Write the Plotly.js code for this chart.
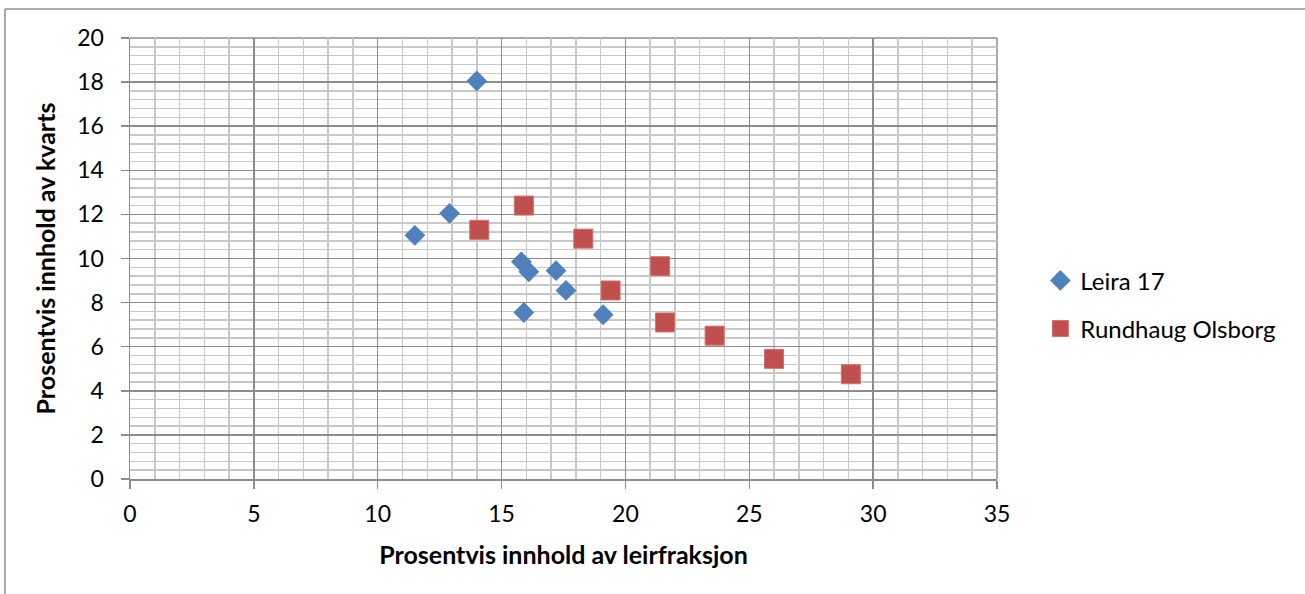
<!DOCTYPE html>
<html>
<head>
<meta charset="utf-8">
<script src="https://cdn.plot.ly/plotly-3.0.1.min.js"></script>
<style>
html,body{margin:0;padding:0;background:#fff;overflow:hidden;}
#chart{width:1305px;height:594px;}
</style>
</head>
<body>
<div id="chart"></div>
<script>
// Leira 17
const leiraX = [14.0, 11.5, 12.9, 15.8, 16.1, 17.2, 17.6, 15.9, 19.1];
const leiraY = [18.05, 11.05, 12.05, 9.85, 9.4, 9.45, 8.55, 7.55, 7.45];
// Rundhaug Olsborg
const rundX = [14.1, 15.9, 18.3, 21.4, 19.4, 21.6, 23.6, 26.0, 29.1];
const rundY = [11.3, 12.4, 10.9, 9.65, 8.55, 7.1, 6.5, 5.45, 4.75];

const seriesNames = ["Leira 17", "Rundhaug Olsborg"];
const xTitle = "Prosentvis innhold av leirfraksjon";
const yTitle = "Prosentvis innhold av kvarts";

const font = "Lato, 'Open Sans', sans-serif";

const traces = [
  {
    type: "scatter", mode: "markers", name: seriesNames[0], legendgroup: "a",
    x: leiraX, y: leiraY,
    marker: {symbol: "diamond", size: 16, color: "#4f81bd", line: {width: 0}}
  },
  {
    type: "scatter", mode: "markers", name: seriesNames[1], legendgroup: "b",
    x: rundX, y: rundY,
    marker: {symbol: "square", size: 19, color: "#c0504d", line: {width: 1, color: "#d0706d"}}
  }
];

const layout = {
  width: 1305, height: 594,
  margin: {l: 130, r: 308, t: 38, b: 115},
  paper_bgcolor: "#fff", plot_bgcolor: "#fff",
  font: {family: font, size: 22, color: "#000"},
  showlegend: true,
  legend: {
    x: 1.050, xanchor: "left", y: 0.395, yanchor: "middle",
    font: {family: font, size: 24, color: "#000"},
    traceorder: "grouped", tracegroupgap: 14,
    bgcolor: "rgba(0,0,0,0)"
  },
  xaxis: {
    range: [0, 35], dtick: 5, tick0: 0,
    showgrid: true, gridcolor: "#8c8c8c", gridwidth: 1.5,
    minor: {dtick: 1, showgrid: true, gridcolor: "#c8c8c8", gridwidth: 1.5},
    showline: true, linecolor: "#8c8c8c", linewidth: 1.5,
    ticks: "outside", ticklen: 8, tickcolor: "#8c8c8c", tickwidth: 1.5,
    zeroline: false, tickfont: {size: 23}, ticklabelstandoff: 6,
    title: {text: "<b>" + xTitle + "</b>", font: {size: 25}, standoff: 20}
  },
  yaxis: {
    range: [0, 20], dtick: 2, tick0: 0,
    showgrid: true, gridcolor: "#8c8c8c", gridwidth: 1.5,
    minor: {dtick: 0.4, showgrid: true, gridcolor: "#c8c8c8", gridwidth: 1.5},
    showline: true, linecolor: "#8c8c8c", linewidth: 1.5,
    ticks: "outside", ticklen: 8, tickcolor: "#8c8c8c", tickwidth: 1.5,
    zeroline: false, tickfont: {size: 23}, ticklabelstandoff: 12,
    title: {text: "<b>" + yTitle + "</b>", font: {size: 25}, standoff: 14}
  },
  shapes: [
    {type: "line", xref: "paper", yref: "paper",
     x0: -0.1442, x1: 1.5, y0: 1.0658, y1: 1.0658,
     line: {color: "#8c8c8c", width: 1.5}, layer: "below"},
    {type: "line", xref: "paper", yref: "paper",
     x0: -0.1442, x1: -0.1442, y0: -0.4, y1: 1.0658,
     line: {color: "#8c8c8c", width: 1.5}, layer: "below"},
    {type: "line", xref: "paper", yref: "paper",
     x0: 1, x1: 1, y0: 0, y1: 1,
     line: {color: "#8c8c8c", width: 1.5}, layer: "below"},
    {type: "line", xref: "paper", yref: "paper",
     x0: 0, x1: 1, y0: 1, y1: 1,
     line: {color: "#8c8c8c", width: 1.5}, layer: "below"}
  ]
};

Plotly.newPlot("chart", traces, layout, {displayModeBar: false, staticPlot: true});
</script>
</body>
</html>
